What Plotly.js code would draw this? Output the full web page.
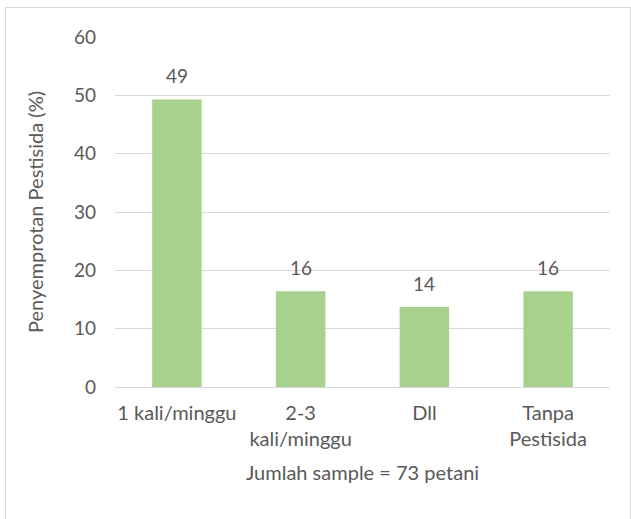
<!DOCTYPE html>
<html><head><meta charset="utf-8">
<script src="https://cdn.plot.ly/plotly-3.0.1.min.js"></script>
<style>
html,body{margin:0;padding:0;background:#fff;}
#wrap{position:relative;width:631px;height:519px;}
#chart{position:absolute;left:0;top:0;width:631px;height:519px;}
#frame{position:absolute;left:5px;top:7px;width:624px;height:520px;border:1px solid #d9d9d9;pointer-events:none;}
</style></head>
<body><div id="wrap"><div id="chart"></div><div id="frame"></div></div>
<script>
const categories = ["1 kali/minggu", "2-3<br>kali/minggu", "Dll", "Tanpa<br>Pestisida"];
const values = [49.3, 16.4, 13.7, 16.4];
const labels = ["49", "16", "14", "16"];
const yTicks = [0, 10, 20, 30, 40, 50, 60];

const font = "Lato, 'Open Sans', sans-serif";
const textColor = "#595959";

const trace = {
  type: "bar", x: categories, y: values, width: 0.4,
  marker: {color: "#A9D18E"}, hoverinfo: "none"
};
const annotations = categories.map((c, i) => ({
  x: c, y: values[i], text: labels[i], showarrow: false,
  yshift: 24, font: {family: font, size: 19, color: textColor}
}));
const layout = {
  width: 631, height: 519,
  margin: {l: 115, r: 21, t: 37, b: 132},
  paper_bgcolor: "#fff", plot_bgcolor: "#fff",
  font: {family: font, size: 19, color: textColor},
  showlegend: false,
  xaxis: {
    type: "category", showgrid: false, zeroline: false,
    showline: true, linecolor: "#d9d9d9", linewidth: 1,
    ticks: "", ticklabelstandoff: 8,
    tickfont: {family: font, size: 20, color: textColor},
    title: {text: "Jumlah sample = 73 petani", standoff: 16,
            font: {family: font, size: 20, color: textColor}}
  },
  yaxis: {
    range: [0, 60], tickvals: yTicks, showgrid: true,
    gridcolor: "#d9d9d9", gridwidth: 1, zeroline: false,
    showline: false, ticks: "", ticklabelstandoff: 18,
    tickfont: {family: font, size: 19, color: textColor},
    title: {text: "Penyemprotan Pestisida (%)", standoff: 24,
            font: {family: font, size: 20, color: textColor}}
  },
  annotations: annotations
};
Plotly.newPlot("chart", [trace], layout, {displayModeBar: false, staticPlot: true});
</script></body></html>
